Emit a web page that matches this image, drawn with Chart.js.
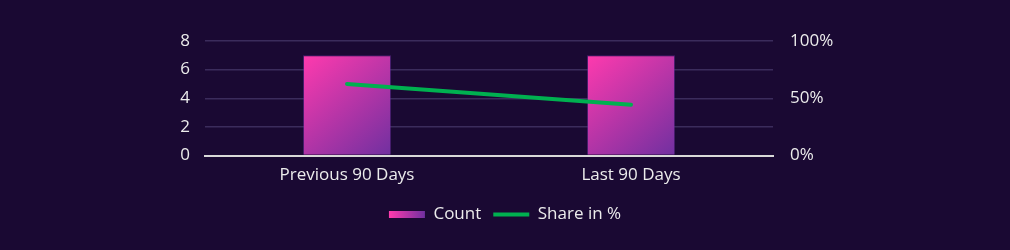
<!DOCTYPE html>
<html>
<head>
<meta charset="utf-8">
<script src="https://cdn.jsdelivr.net/npm/chart.js@4.4.1/dist/chart.umd.min.js"></script>
<style>
  html, body { margin: 0; padding: 0; background: #1a0933; }
  #wrap { width: 1010px; height: 250px; position: relative; }
</style>
</head>
<body>
<div id="wrap"><canvas id="c"></canvas></div>
<script>
const categories = ['Previous 90 Days', 'Last 90 Days'];
const countValues = [7, 7];
const shareValues = [0.625, 0.444];
const leftTicks = [0, 2, 4, 6, 8];
const rightTicks = [0, 0.5, 1];

const FONT = 'Open Sans';
const FS = 17;
const TXT = '#ececec';
const PINK = '#ff3aae';
const PURPLE = '#7030a0';

function barGradient(ctx) {
  const chart = ctx.chart;
  const xs = chart.scales.x, ys = chart.scales.y;
  if (!chart.chartArea || !xs || !ys || ctx.type !== 'data') return PINK;
  const i = ctx.dataIndex;
  const cx = xs.getPixelForValue(i);
  const half = (xs.width / categories.length) * 0.31 / 2;
  const top = ys.getPixelForValue(countValues[i]);
  const bot = ys.getPixelForValue(0);
  const g = chart.ctx.createLinearGradient(cx - half, top, cx + half, bot);
  g.addColorStop(0, PINK);
  g.addColorStop(1, PURPLE);
  return g;
}

const legendGradientPlugin = {
  id: 'legendGradient',
  beforeDraw(chart) {
    const lg = chart.legend;
    if (!lg || !lg.legendItems || !lg.legendHitBoxes) return;
    lg.legendItems.forEach((item, k) => {
      if (item.datasetIndex === 0) {
        const hb = lg.legendHitBoxes[k];
        const g = chart.ctx.createLinearGradient(hb.left, 0, hb.left + 36, 0);
        g.addColorStop(0, PINK);
        g.addColorStop(1, PURPLE);
        item.fillStyle = g;
        item.strokeStyle = 'rgba(0,0,0,0)';
        item.lineWidth = 0;
      }
    });
  }
};

new Chart(document.getElementById('c'), {
  data: {
    labels: categories,
    datasets: [
      {
        type: 'bar',
        label: 'Count',
        data: countValues,
        yAxisID: 'y',
        order: 2,
        backgroundColor: barGradient,
        borderColor: 'rgba(112,48,160,0.5)',
        borderWidth: 1,
        categoryPercentage: 1,
        barPercentage: 0.31
      },
      {
        type: 'line',
        label: 'Share in %',
        data: shareValues,
        yAxisID: 'y1',
        order: 1,
        borderColor: '#00b050',
        backgroundColor: '#00b050',
        borderWidth: 4,
        borderCapStyle: 'round',
        pointRadius: 0,
        pointHoverRadius: 0,
        tension: 0
      }
    ]
  },
  options: {
    responsive: true,
    maintainAspectRatio: false,
    animation: false,
    layout: { padding: { left: 0, right: 0, top: 41, bottom: 17 } },
    plugins: {
      tooltip: { enabled: false },
      legend: {
        position: 'bottom',
        labels: {
          color: TXT,
          font: { family: FONT, size: FS },
          usePointStyle: true,
          pointStyleWidth: 36,
          boxHeight: 7,
          padding: 12,
          sort: (a, b) => a.datasetIndex - b.datasetIndex,
          generateLabels(chart) {
            return chart.data.datasets.map((ds, i) => ({
              text: ds.label,
              datasetIndex: i,
              fillStyle: i === 0 ? PINK : '#00b050',
              strokeStyle: i === 0 ? 'rgba(0,0,0,0)' : '#00b050',
              lineWidth: i === 0 ? 0 : 4,
              pointStyle: i === 0 ? 'rect' : 'line',
              fontColor: TXT,
              hidden: false
            }));
          }
        }
      }
    },
    scales: {
      x: {
        grid: { display: false, drawTicks: false },
        border: { display: true, color: '#d9d9d9', width: 2 },
        ticks: { color: TXT, font: { family: FONT, size: FS }, padding: 9 }
      },
      y: {
        position: 'left',
        min: 0,
        max: 8,
        afterBuildTicks(scale) { scale.ticks = leftTicks.map(v => ({ value: v })); },
        grid: { color: '#3b2c5c', lineWidth: 1.5, drawTicks: false },
        border: { display: false },
        ticks: { color: TXT, font: { family: FONT, size: FS }, padding: 15 },
        afterFit(scale) { scale.width = 205; }
      },
      y1: {
        position: 'right',
        min: 0,
        max: 1,
        afterBuildTicks(scale) { scale.ticks = rightTicks.map(v => ({ value: v })); },
        grid: { display: false, drawTicks: false },
        border: { display: false },
        ticks: {
          color: TXT,
          font: { family: FONT, size: FS },
          padding: 17,
          callback: v => Math.round(v * 100) + '%'
        },
        afterFit(scale) { scale.width = 237; }
      }
    }
  },
  plugins: [legendGradientPlugin]
});
</script>
</body>
</html>
